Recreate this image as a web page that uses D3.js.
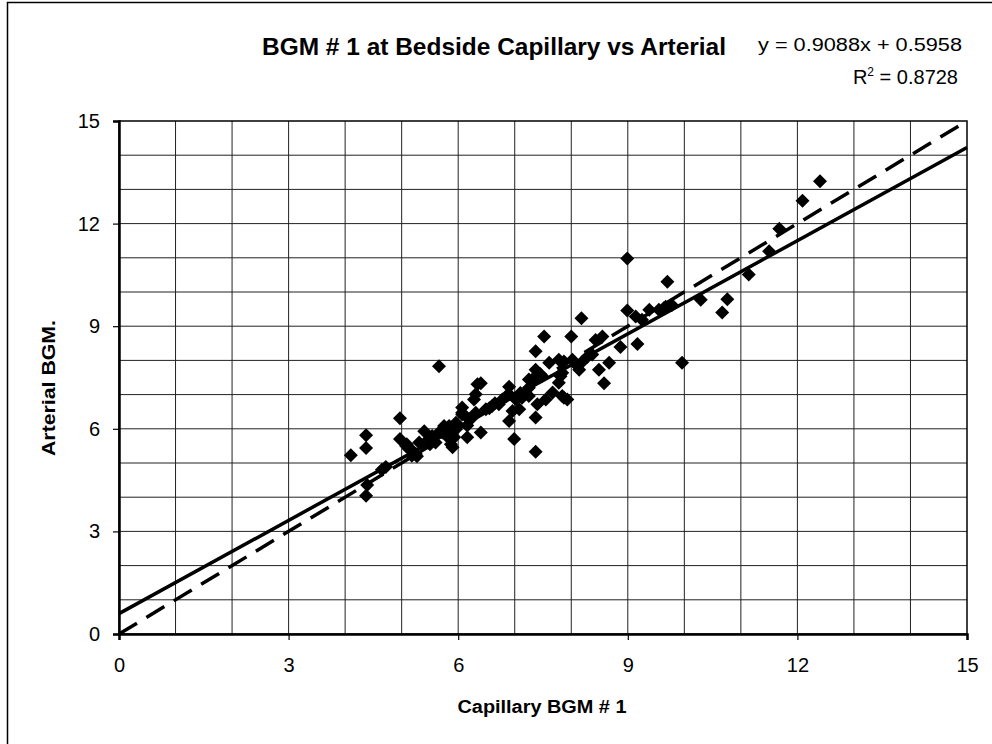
<!DOCTYPE html>
<html>
<head>
<meta charset="utf-8">
<script src="https://cdn.jsdelivr.net/npm/d3@7"></script>
<style>
  body { margin: 0; background: #fff; }
  text { font-family: "Liberation Sans", Arial, sans-serif; fill: #000; }
</style>
</head>
<body>
<svg id="chart"></svg>
<script>
// Capillary (x) vs arterial (y) readings
const capillary = [
  4.10, 4.37, 4.37, 4.97, 4.97, 4.37, 4.65, 4.39, 5.08, 5.27,
  5.40, 5.66, 5.48, 5.31, 5.60, 5.13, 5.54, 5.18, 5.75, 5.66,
  5.78, 5.90, 5.96, 5.96, 6.07, 6.16, 6.19, 6.31, 6.40, 6.07,
  6.40, 6.31, 6.28, 6.49, 6.60, 6.72, 6.78, 6.90, 6.90, 7.02,
  7.13, 7.25, 6.96, 7.08, 7.40, 7.55, 7.67, 6.90, 7.37, 6.99,
  7.37, 7.25, 7.31, 7.25, 7.37, 7.48, 7.37, 7.52, 7.61, 7.78,
  7.84, 7.78, 7.87, 7.93, 7.84, 7.81, 7.87, 8.02, 8.20, 8.14,
  8.00, 8.18, 8.37, 8.43, 8.55, 8.67, 8.49, 8.58, 8.87, 9.17,
  8.99, 8.99, 9.14, 9.25, 9.38, 9.55, 9.67, 9.78, 9.64, 9.70,
  9.96, 10.29, 10.76, 10.67, 11.14, 11.50, 11.68, 12.09, 12.40, 6.07,
  5.84, 5.72, 5.09, 5.25, 6.16, 6.55, 6.85, 7.10, 5.50, 5.85,
  7.45, 8.28, 8.10, 6.65, 5.87, 6.34, 5.93, 5.19, 4.72, 6.22
];
const arterial = [
  5.23, 5.81, 5.44, 6.31, 5.70, 4.04, 4.80, 4.36, 5.50, 5.20,
  5.93, 7.83, 5.70, 5.60, 5.60, 5.41, 5.79, 5.21, 6.08, 5.89,
  5.84, 5.46, 5.99, 6.18, 6.42, 5.75, 6.28, 6.47, 5.89, 6.62,
  7.33, 7.01, 6.86, 6.57, 6.67, 6.72, 6.86, 7.23, 7.01, 6.86,
  6.91, 6.96, 6.52, 6.57, 6.72, 6.86, 7.06, 6.23, 6.33, 5.70,
  5.33, 7.20, 7.44, 7.44, 7.73, 7.54, 8.27, 8.70, 7.93, 8.02,
  7.64, 7.35, 6.91, 6.86, 6.96, 7.54, 7.97, 8.02, 7.97, 7.73,
  8.70, 9.23, 8.17, 8.60, 8.70, 7.93, 7.73, 7.33, 8.39, 8.48,
  9.46, 10.98, 9.28, 9.19, 9.48, 9.48, 9.57, 9.62, 9.53, 10.30,
  7.93, 9.77, 9.79, 9.40, 10.51, 11.19, 11.85, 12.67, 13.24, 6.47,
  6.08, 5.89, 5.55, 5.26, 6.10, 6.60, 6.95, 7.05, 5.55, 5.70,
  7.60, 8.10, 7.85, 6.75, 5.55, 7.30, 5.75, 5.36, 4.88, 6.28
];
const xTicks = [0, 3, 6, 9, 12, 15];
const yTicks = [0, 3, 6, 9, 12, 15];
const slope = 0.9088;
const intercept = 0.5958;

const width = 992;
const height = 744;
const plot = { left: 119, right: 967, top: 121, bottom: 634 };

const x = d3.scaleLinear().domain([0, 15]).range([plot.left, plot.right]);
const y = d3.scaleLinear().domain([0, 15]).range([plot.bottom, plot.top]);

const svg = d3.select("#chart").attr("width", width).attr("height", height);

// outer frame of the chart object (runs off the page right and bottom)
svg.append("rect")
  .attr("x", 7.5).attr("y", 2.5)
  .attr("width", 1000).attr("height", 800)
  .attr("fill", "none").attr("stroke", "#000").attr("stroke-width", 1.5);

// gridlines, one per unit
const grid = svg.append("g").attr("stroke", "#222").attr("stroke-width", 1);
grid.selectAll("line.v")
  .data(d3.range(1, 15))
  .join("line")
  .attr("x1", (d) => x(d)).attr("x2", (d) => x(d))
  .attr("y1", plot.top).attr("y2", plot.bottom);
grid.selectAll("line.h")
  .data(d3.range(1, 15))
  .join("line")
  .attr("y1", (d) => y(d)).attr("y2", (d) => y(d))
  .attr("x1", plot.left).attr("x2", plot.right);

// plot border
svg.append("rect")
  .attr("x", plot.left).attr("y", plot.top)
  .attr("width", plot.right - plot.left).attr("height", plot.bottom - plot.top)
  .attr("fill", "none").attr("stroke", "#000").attr("stroke-width", 1.5);

// axes
const xAxis = svg.append("g")
  .attr("transform", `translate(0,${plot.bottom})`)
  .call(d3.axisBottom(x).tickValues(xTicks).tickSize(6).tickPadding(18).tickFormat(d3.format("d")));
const yAxis = svg.append("g")
  .attr("transform", `translate(${plot.left},0)`)
  .call(d3.axisLeft(y).tickValues(yTicks).tickSize(6).tickPadding(13).tickFormat(d3.format("d")));
[xAxis, yAxis].forEach((g) => {
  g.select(".domain").attr("stroke", "#000").attr("stroke-width", 2.5);
  g.selectAll(".tick line").attr("stroke", "#000").attr("stroke-width", 1.2);
  g.selectAll(".tick text")
    .style("font-family", '"Liberation Sans", Arial, sans-serif')
    .style("font-size", "20px")
    .attr("fill", "#000");
});

// identity line (dashed) and regression line (solid)
svg.append("line")
  .attr("x1", x(0)).attr("y1", y(0))
  .attr("x2", x(15)).attr("y2", y(15))
  .attr("stroke", "#000").attr("stroke-width", 3.5)
  .attr("stroke-dasharray", "21,11");
svg.append("line")
  .attr("x1", x(0)).attr("y1", y(intercept))
  .attr("x2", x(15)).attr("y2", y(slope * 15 + intercept))
  .attr("stroke", "#000").attr("stroke-width", 3.5);

// points: black diamonds
const diamond = d3.symbol().type(d3.symbolSquare).size(98);
svg.append("g")
  .selectAll("path")
  .data(d3.range(capillary.length))
  .join("path")
  .attr("d", diamond)
  .attr("transform", (i) => `translate(${x(capillary[i])},${y(arterial[i])}) rotate(45)`)
  .attr("fill", "#000");

// titles and labels
svg.append("text")
  .attr("x", 494).attr("y", 55)
  .attr("text-anchor", "middle")
  .attr("textLength", 464).attr("lengthAdjust", "spacingAndGlyphs")
  .style("font-size", "23px").style("font-weight", "bold")
  .text("BGM # 1 at Bedside Capillary vs Arterial");

svg.append("text")
  .attr("x", 962).attr("y", 51)
  .attr("text-anchor", "end")
  .attr("textLength", 204).attr("lengthAdjust", "spacingAndGlyphs")
  .style("font-size", "18px")
  .text("y = 0.9088x + 0.5958");

const r2 = svg.append("text")
  .attr("x", 958).attr("y", 84)
  .attr("text-anchor", "end")
  .style("font-size", "20px");
r2.append("tspan").text("R");
r2.append("tspan").attr("dy", -8).style("font-size", "12px").text("2");
r2.append("tspan").attr("dy", 8).text(" = 0.8728");

svg.append("text")
  .attr("x", 542).attr("y", 713)
  .attr("text-anchor", "middle")
  .attr("textLength", 169).attr("lengthAdjust", "spacingAndGlyphs")
  .style("font-size", "18px").style("font-weight", "bold")
  .text("Capillary BGM # 1");

svg.append("text")
  .attr("transform", "translate(55,388) rotate(-90)")
  .attr("text-anchor", "middle")
  .attr("textLength", 136).attr("lengthAdjust", "spacingAndGlyphs")
  .style("font-size", "18px").style("font-weight", "bold")
  .text("Arterial BGM.");
</script>
</body>
</html>
